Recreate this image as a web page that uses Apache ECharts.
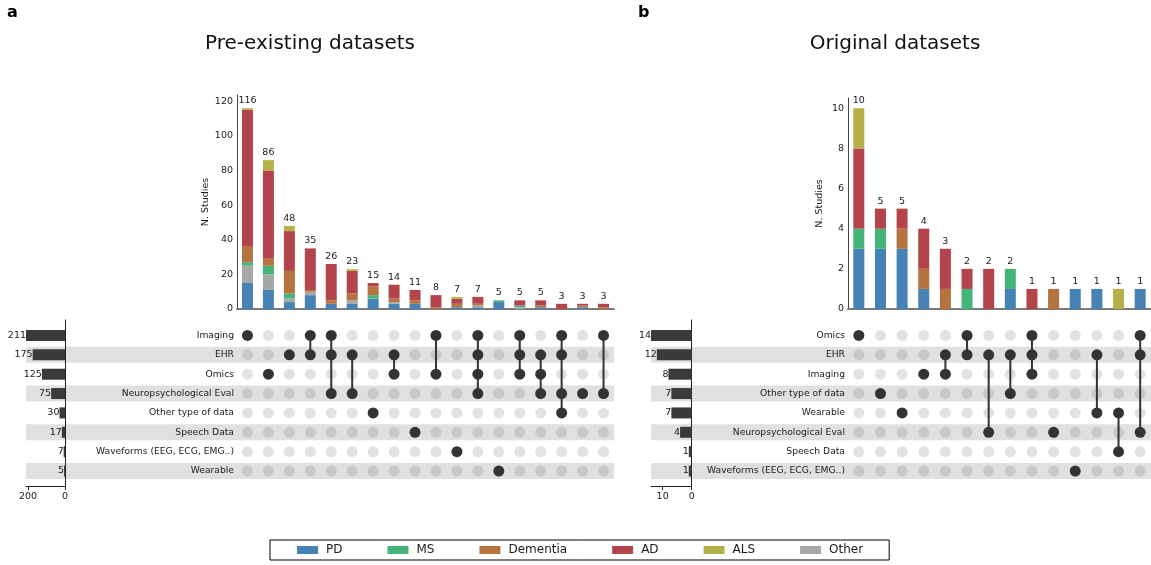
<!DOCTYPE html>
<html><head><meta charset="utf-8">
<script src="https://cdn.jsdelivr.net/npm/echarts@6/dist/echarts.min.js"></script>
<style>html,body{margin:0;padding:0;background:#fff}#c{width:1151px;height:565px}</style>
</head><body><div id="c"></div>
<script>
// ---------------- data ----------------
const legendNames = ['PD', 'MS', 'Dementia', 'AD', 'ALS', 'Other'];
const stackOrder = ['PD', 'Other', 'MS', 'Dementia', 'AD', 'ALS'];

// Panel a: Pre-existing datasets
const aTitle = 'Pre-existing datasets';
const aRows = ['Imaging', 'EHR', 'Omics', 'Neuropsychological Eval', 'Other type of data', 'Speech Data', 'Waveforms (EEG, ECG, EMG..)', 'Wearable'];
const aRowSizes = [211, 175, 125, 75, 30, 17, 7, 5];
const aMembers = [[0], [2], [1], [0, 1], [0, 1, 3], [1, 3], [4], [1, 2], [5], [0, 2], [6], [0, 1, 2, 3], [7], [0, 1, 2], [1, 2, 3], [0, 1, 3, 4], [3], [0, 3]];
const aPD       = [15, 11, 4, 8, 3, 3, 6, 3, 3, 0, 1, 1, 4, 0, 1, 0, 1, 0];
const aOther    = [10, 9, 2, 2, 0, 2, 0, 1, 0, 0, 0, 1, 0, 1, 0, 0, 0, 0];
const aMS       = [2, 5, 3, 0, 0, 0, 2, 0, 0, 0, 0, 0, 1, 1, 0, 0, 0, 0];
const aDementia = [9, 4, 13, 1, 2, 4, 5, 2, 2, 1, 2, 1, 0, 0, 1, 0, 1, 1];
const aAD       = [79, 51, 23, 24, 21, 13, 2, 8, 6, 7, 3, 4, 0, 3, 3, 3, 1, 2];
const aALS      = [1, 6, 3, 0, 0, 1, 0, 0, 0, 0, 1, 0, 0, 0, 0, 0, 0, 0];
const aYTicks = [0, 20, 40, 60, 80, 100, 120];
const aSizeTicks = [0, 200];

// Panel b: Original datasets
const bTitle = 'Original datasets';
const bRows = ['Omics', 'EHR', 'Imaging', 'Other type of data', 'Wearable', 'Neuropsychological Eval', 'Speech Data', 'Waveforms (EEG, ECG, EMG..)'];
const bRowSizes = [14, 12, 8, 7, 7, 4, 1, 1];
const bMembers = [[0], [3], [4], [2], [1, 2], [0, 1], [1, 5], [1, 3], [0, 1, 2], [5], [7], [1, 4], [4, 6], [0, 1, 5]];
const bPD       = [3, 3, 3, 1, 0, 0, 0, 1, 0, 0, 1, 1, 0, 1];
const bMS       = [1, 1, 0, 0, 0, 1, 0, 1, 0, 0, 0, 0, 0, 0];
const bDementia = [0, 0, 1, 1, 1, 0, 0, 0, 0, 1, 0, 0, 0, 0];
const bAD       = [4, 1, 1, 2, 2, 1, 2, 0, 1, 0, 0, 0, 0, 0];
const bALS      = [2, 0, 0, 0, 0, 0, 0, 0, 0, 0, 0, 0, 1, 0];
const bYTicks = [0, 2, 4, 6, 8, 10];
const bSizeTicks = [0, 10];

// ---------------- style ----------------
const FONT = 'DejaVu Sans';
const TXT = '#1a1a1a';
const colors = { PD: '#4682b4', MS: '#45b47a', Dementia: '#b5733f', AD: '#b4444c', ALS: '#b6b04a', Other: '#a6a8a6' };

const panels = [
  {
    letter: 'a', title: aTitle, letterX: 7, titleX: 310,
    rows: aRows, sizes: aRowSizes, members: aMembers,
    values: { PD: aPD, Other: aOther, MS: aMS, Dementia: aDementia, AD: aAD, ALS: aALS },
    yTicks: aYTicks, sizeTicks: aSizeTicks,
    bar: { left: 237, top: 95, width: 377, height: 214 }, yMax: 123.6,
    mat: { left: 237, top: 325.8, width: 377, height: 154.9 },
    size: { left: 26, top: 320, width: 39, height: 166 }, sizeMax: 211
  },
  {
    letter: 'b', title: bTitle, letterX: 638, titleX: 895,
    rows: bRows, sizes: bRowSizes, members: bMembers,
    values: { PD: bPD, MS: bMS, Dementia: bDementia, AD: bAD, ALS: bALS },
    yTicks: bYTicks, sizeTicks: bSizeTicks,
    bar: { left: 848, top: 98, width: 303, height: 211 }, yMax: 10.51,
    mat: { left: 848, top: 325.8, width: 303, height: 154.9 },
    size: { left: 651, top: 320, width: 40.7, height: 166 }, sizeMax: 14
  }
];
const rowMin = -0.8, rowMax = 7.774;

const option = {
  animation: false, backgroundColor: '#fff',
  grid: [], xAxis: [], yAxis: [], series: [], graphic: [],
  legend: {
    left: 270, top: 540, orient: 'horizontal', selectedMode: false,
    data: legendNames.map(n => ({ name: n, icon: 'rect' })),
    itemWidth: 21, itemHeight: 8, itemGap: 45,
    padding: [4, 26, 4, 27], borderColor: '#000', borderWidth: 1, borderRadius: 0, backgroundColor: '#fff',
    textStyle: { fontSize: 12, fontFamily: FONT, color: TXT, padding: [0, 0, 0, 3], lineHeight: 12 }
  }
};

function gridOf(b) {
  return Object.assign({ containLabel: false, outerBoundsMode: 'none' }, b);
}

panels.forEach(P => {
  const n = P.members.length;
  const cats = P.members.map((_, i) => 'c' + i);
  const g0 = option.grid.length;
  option.grid.push(gridOf(P.bar), gridOf(P.mat), gridOf(P.size));
  const xi = option.xAxis.length, yi = option.yAxis.length;

  // bar chart axes
  option.xAxis.push({
    gridIndex: g0, type: 'category', data: cats,
    axisLine: { show: true, lineStyle: { color: '#7a7a7a', width: 2 } },
    axisTick: { show: false }, axisLabel: { show: false }, splitLine: { show: false }
  });
  option.yAxis.push({
    gridIndex: g0, type: 'value', min: 0, max: P.yMax,
    axisLine: { show: true, lineStyle: { color: '#444', width: 1 } },
    axisTick: { show: false }, splitLine: { show: false },
    axisLabel: { customValues: P.yTicks, fontSize: 9.5, color: TXT, margin: 4, fontFamily: FONT },
    name: 'N. Studies', nameLocation: 'middle', nameGap: 23,
    nameTextStyle: { fontSize: 9.5, color: TXT, fontFamily: FONT }
  });
  // matrix axes
  option.xAxis.push({
    gridIndex: g0 + 1, type: 'category', data: cats, show: false
  });
  option.yAxis.push({
    gridIndex: g0 + 1, type: 'category', data: P.rows, inverse: true,
    axisLine: { show: false }, axisTick: { show: false }, splitLine: { show: false },
    axisLabel: { fontSize: 9.2, color: TXT, margin: 3, fontFamily: FONT }
  });
  // set-size axes
  option.xAxis.push({
    gridIndex: g0 + 2, type: 'value', inverse: true, min: 0, max: P.sizeMax,
    axisLine: { show: true, onZero: false, lineStyle: { color: '#222', width: 1 } },
    axisTick: { show: true, customValues: P.sizeTicks, length: 4, lineStyle: { color: '#222' } },
    axisLabel: { customValues: P.sizeTicks, fontSize: 9.5, color: TXT, margin: 6, fontFamily: FONT },
    splitLine: { show: false }
  });
  option.yAxis.push({
    gridIndex: g0 + 2, type: 'value', inverse: true, min: rowMin, max: rowMax, position: 'right',
    axisLine: { show: true, onZero: false, lineStyle: { color: '#222', width: 1 } },
    axisTick: { show: false }, axisLabel: { show: false }, splitLine: { show: false }
  });

  // stacked bars
  const totals = new Array(n).fill(0);
  stackOrder.forEach(name => {
    const vals = P.values[name];
    if (!vals) return;
    vals.forEach((v, i) => totals[i] += v);
    option.series.push({
      type: 'bar', name: name, stack: 'st' + g0, xAxisIndex: xi, yAxisIndex: yi,
      barWidth: 11, itemStyle: { color: colors[name], opacity: 1 }, data: vals, z: 2
    });
  });
  option.series.push({
    type: 'scatter', name: 'total', xAxisIndex: xi, yAxisIndex: yi,
    symbolSize: 1, itemStyle: { color: 'rgba(0,0,0,0)', opacity: 1 }, data: totals, z: 3,
    label: { show: true, position: 'top', distance: 2, formatter: p => String(p.value), fontSize: 9.5, color: TXT, opacity: 1, fontFamily: FONT }
  });

  // bands
  const bandLeft = P.size.left;
  const shaded = P.rows.map((_, r) => r).filter(r => r % 2 === 1);
  option.series.push({
    type: 'custom', xAxisIndex: xi + 1, yAxisIndex: yi + 1, z: 0, silent: true,
    data: shaded.map(r => [0, r]), encode: { x: 0, y: 1 },
    renderItem: (params, api) => {
      const c = api.coord([0, api.value(1)]);
      const cs = params.coordSys;
      return { type: 'rect', shape: { x: bandLeft, y: c[1] - 8, width: cs.x + cs.width - bandLeft, height: 16 }, style: { fill: '#e0e0e0' } };
    }
  });
  // dots and connectors
  const empty = [], filled = [], links = [];
  P.members.forEach((m, c) => {
    P.rows.forEach((_, r) => {
      if (m.indexOf(r) >= 0) filled.push([c, r]);
      else empty.push({ value: [c, r], itemStyle: { color: r % 2 === 1 ? '#c8c8c8' : '#e2e2e2', opacity: 1 } });
    });
    if (m.length > 1) links.push([c, Math.min(...m), Math.max(...m)]);
  });
  option.series.push({
    type: 'scatter', xAxisIndex: xi + 1, yAxisIndex: yi + 1, symbolSize: 11, z: 2, silent: true,
    itemStyle: { opacity: 1 }, data: empty
  });
  option.series.push({
    type: 'custom', xAxisIndex: xi + 1, yAxisIndex: yi + 1, z: 3, silent: true,
    data: links, encode: { x: 0, y: [1, 2] },
    renderItem: (params, api) => {
      const p1 = api.coord([api.value(0), api.value(1)]);
      const p2 = api.coord([api.value(0), api.value(2)]);
      return { type: 'line', shape: { x1: p1[0], y1: p1[1], x2: p2[0], y2: p2[1] }, style: { stroke: '#333', lineWidth: 2 } };
    }
  });
  option.series.push({
    type: 'scatter', xAxisIndex: xi + 1, yAxisIndex: yi + 1, symbolSize: 11, z: 4, silent: true,
    itemStyle: { color: '#333', opacity: 1 }, data: filled
  });
  // set-size bars
  option.series.push({
    type: 'custom', xAxisIndex: xi + 2, yAxisIndex: yi + 2, z: 3, silent: true,
    data: P.sizes.map((s, r) => [s, r]), encode: { x: 0, y: 1 },
    renderItem: (params, api) => {
      const v = api.value(0), r = api.value(1);
      const p0 = api.coord([0, r]);
      const p1 = api.coord([v, r]);
      return {
        type: 'group', children: [
          { type: 'rect', shape: { x: p1[0], y: p0[1] - 5.5, width: p0[0] - p1[0], height: 11 }, style: { fill: '#3a3a3a' } },
          { type: 'text', style: { text: String(v), x: p1[0], y: p0[1], align: 'right', verticalAlign: 'middle', fontSize: 9.5, fontFamily: FONT, fill: TXT } }
        ]
      };
    }
  });

  // titles
  option.graphic.push(
    { type: 'text', x: P.letterX, y: 12.4, style: { text: P.letter, fontSize: 16, fontWeight: 'bold', fontFamily: FONT, fill: '#000', verticalAlign: 'middle' } },
    { type: 'text', x: P.titleX, y: 44, style: { text: P.title, fontSize: 20, fontFamily: FONT, fill: '#111', align: 'center', verticalAlign: 'middle' } }
  );
});

const chart = echarts.init(document.getElementById('c'), null, { renderer: 'canvas' });
chart.setOption(option);
</script>
</body></html>
